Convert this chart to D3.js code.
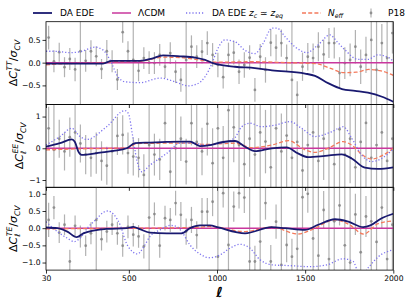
<!DOCTYPE html>
<html>
<head>
<meta charset="utf-8">
<script src="https://cdn.jsdelivr.net/npm/d3@7"></script>
<style>
body { margin: 0; background: #fff; }
text { font-family: "DejaVu Sans", sans-serif; }
</style>
</head>
<body>
<svg id="chart" width="415" height="305"></svg>
<script>
// binned multipoles of the P18 points
const binEll = [45,75,105,135,165,195,225,255,285,315,345,375,405,435,465,495,525,555,585,615,
    645,675,705,735,765,795,825,855,885,915,945,975,1005,1035,1065,1095,1125,1155,1185,1215,
    1245,1275,1305,1335,1365,1395,1425,1455,1485,1515,1545,1575,1605,1635,1665,1695,1725,1755,1785,1815,
    1845,1875,1905,1935,1965,1995];

const ttVal = [0.55,0.03,0.23,-0.10,0.08,-0.15,0.25,0.04,0.25,0.14,-0.14,0.25,0.03,-0.37,0.67,0.25,0.06,-0.18,0.10,0.00,
    -0.01,0.17,-0.09,0.21,-0.20,-0.38,0.06,0.35,0.13,0.24,0.43,0.17,-0.05,-0.32,0.17,0.22,-0.20,-0.05,0.11,-0.60,
    0.13,-0.16,0.44,0.33,0.43,0.10,-0.38,-0.71,-0.09,0.13,0.10,0.35,0.18,0.43,0.43,-0.23,-0.01,0.06,0.35,-0.09,
    0.17,0.50,-0.16,0.43,0.10,0.65];
const ttErr = [0.26,0.24,0.21,0.22,0.24,0.26,3,0.24,0.24,0.22,0.22,0.25,0.24,0.23,0.23,0.22,3,0.23,0.24,0.25,
    0.24,0.24,0.25,0.24,0.25,0.26,3,0.25,0.25,0.26,0.26,0.26,0.27,0.25,0.27,0.26,0.27,0.28,0.27,0.26,
    0.28,0.28,0.3,0.29,0.3,0.3,3,0.3,0.31,0.3,0.32,0.32,0.33,0.33,0.34,0.35,0.35,0.36,0.37,0.38,
    0.4,3,3,0.42,3,0.45];

const eeVal = [0.63,-0.05,0.30,-0.10,0.35,0.50,0.15,-0.20,-0.30,-0.15,-0.40,-0.55,-0.10,0.39,0.42,-0.15,-0.26,-0.30,-0.84,0.10,
    -0.20,-0.35,0.79,-0.74,0.00,0.30,-0.42,0.79,0.20,-0.10,0.77,-0.47,0.63,-0.30,1.20,0.66,0.10,-0.50,0.30,-0.20,
    0.50,0.21,-0.60,0.63,-0.10,0.40,-0.30,0.20,-0.70,0.10,0.50,-0.40,0.30,0.00,-0.50,0.60,-0.20,0.30,-0.60,0.20,
    0.80,-0.30,0.10,0.50,-0.40,0.30];
const eeErr = [0.68,3,0.6,0.6,0.62,3,0.6,0.62,0.6,0.65,0.62,0.6,3,0.6,0.62,0.65,0.6,0.62,0.65,3,
    0.66,0.65,0.62,0.7,3,0.7,0.72,0.7,3,0.75,1.0,1.1,3,1.0,3,1.1,3,3,1.2,3,
    3,1.0,3,3,1.2,3,3,3,1.3,3,3,3,1.3,3,3,3,3,1.4,3,3,
    3,3,1.5,3,3,3];

const teVal = [0.24,0.60,-0.13,0.10,-0.97,0.07,-0.24,-0.51,-0.15,0.24,-0.32,-0.10,0.10,-0.15,-0.51,0.04,-0.19,-0.24,-0.53,0.31,
    0.41,-0.51,0.29,0.24,0.73,0.39,-0.10,0.24,-0.20,0.48,0.48,0.77,-0.83,1.02,-0.49,0.63,1.02,0.89,-0.97,-0.97,
    -0.39,0.73,-0.97,0.19,-1.07,-0.49,-0.83,-0.60,0.90,1.00,-0.30,-0.80,0.53,-0.90,0.20,0.66,-0.50,-1.00,0.40,-0.70,
    0.34,0.20,-0.40,0.60,-0.90,0.10];
const teErr = [0.5,0.34,0.3,0.3,0.34,0.3,0.32,0.3,0.32,3,0.33,0.32,0.3,0.33,0.32,0.33,0.34,0.33,0.35,3,
    0.34,0.35,0.36,0.35,0.36,0.37,0.38,0.38,0.4,0.4,0.4,0.42,3,0.42,3,0.44,0.45,0.45,3,0.46,
    3,0.48,0.48,0.5,3,0.5,0.52,3,3,0.55,3,3,0.55,3,3,0.58,3,3,0.6,3,
    0.6,3,3,0.62,3,3];

// model residuals, [ell, value]
const ttEde = [[30,-0.02],[194,-0.02],[353,-0.02],[404,0.04],[563,0.04],[631,0.09],[694,0.16],[790,0.14],[875,0.11],[932,0.06],
    [977,-0.01],[1102,-0.09],[1215,-0.12],[1312,-0.17],[1499,-0.24],[1556,-0.29],[1630,-0.45],[1709,-0.58],[1783,-0.62],[1856,-0.66],[1936,-0.75],[2000,-0.86]];
const ttZeq = [[30,0.25],[81,0.25],[166,0.22],[223,0.24],[308,0.34],[353,0.28],[393,0.06],[438,-0.31],[478,-0.42],[563,-0.44],
    [677,-0.34],[762,-0.42],[835,-0.51],[886,-0.47],[932,-0.31],[972,-0.01],[1000,0.27],[1045,0.5],[1102,0.46],[1159,0.27],
    [1215,0.2],[1261,0.42],[1312,0.76],[1340,0.76],[1386,0.57],[1442,0.35],[1510,0.22],[1573,0.39],[1641,0.61],[1681,0.46],
    [1726,0.28],[1800,0.07],[1856,0.07],[1913,0.17],[1970,0.12],[2000,0.03]];
const ttNeff = [[30,-0.05],[150,-0.02],[350,-0.01],[410,0.02],[560,0.03],[700,0.12],[800,0.11],[930,0.04],[1000,0.01],[1200,0.02],
    [1400,0.0],[1560,-0.02],[1640,-0.12],[1720,-0.22],[1790,-0.21],[1860,-0.15],[1930,-0.18],[2000,-0.28]];

const eeEde = [[30,0.05],[109,0.16],[176,0.28],[194,0.2],[213,-0.1],[232,-0.21],[261,-0.2],[336,-0.14],[412,-0.08],[488,0.0],
    [535,0.16],[620,0.18],[715,0.2],[790,0.21],[847,0.21],[903,0.07],[960,0.1],[1026,0.19],[1102,0.23],[1159,0.05],
    [1215,-0.09],[1310,0.0],[1395,0.03],[1459,-0.16],[1516,-0.28],[1613,-0.24],[1707,-0.19],[1764,-0.32],[1839,-0.61],[1913,-0.65],[2000,-0.6]];
const eeZeq = [[30,0.1],[109,0.37],[176,0.63],[223,0.37],[261,0.28],[374,0.68],[478,1.19],[497,1.1],[522,0.37],[545,-0.37],
    [573,-0.74],[620,-0.53],[715,-0.16],[790,0.16],[875,0.16],[932,0.1],[1026,0.16],[1102,0.34],[1140,0.68],[1187,0.79],
    [1253,0.68],[1329,0.73],[1414,0.84],[1480,0.63],[1556,0.37],[1650,0.52],[1716,0.68],[1764,0.32],[1820,-0.21],[1877,-0.42],
    [1934,-0.32],[2000,-0.02]];
const eeNeff = [[30,-0.05],[200,-0.02],[400,0.0],[500,0.02],[545,0.15],[700,0.16],[850,0.16],[932,0.12],[1102,0.16],[1196,0.02],
    [1310,0.1],[1405,0.24],[1500,-0.05],[1556,-0.13],[1630,0.0],[1716,0.21],[1764,0.1],[1830,-0.23],[1877,-0.34],[1934,-0.24],[2000,0.0]];

const teEde = [[30,0.02],[94,0.0],[151,-0.1],[204,-0.26],[242,-0.15],[298,-0.07],[374,-0.02],[488,0.0],[525,0.04],[563,-0.03],
    [620,-0.13],[715,-0.15],[800,-0.15],[847,0.0],[903,0.08],[960,0.08],[1007,0.02],[1159,-0.15],[1310,0.03],[1386,0.0],
    [1499,-0.05],[1574,0.1],[1669,0.26],[1745,0.19],[1830,0.03],[1870,0.08],[1934,0.29],[2000,0.42]];
const teZeq = [[30,0.19],[94,-0.1],[151,-0.29],[189,-0.39],[227,-0.27],[264,0.0],[311,0.24],[359,0.47],[378,0.5],[416,0.39],
    [454,0.05],[482,-0.39],[520,-0.68],[548,-0.75],[586,-0.53],[620,-0.24],[677,-0.05],[734,0.08],[772,0.05],[800,-0.1],
    [847,-0.49],[903,-0.75],[955,-0.86],[1017,-0.78],[1074,-0.58],[1130,-0.47],[1187,-0.58],[1244,-0.92],[1319,-1.07],[1414,-1.09],
    [1527,-1.12],[1622,-1.07],[1716,-0.89],[1773,-0.97],[1801,-1.25],[1840,-1.26],[1858,-1.15],[1915,-0.83],[2000,-0.63]];
const teNeff = [[30,-0.02],[300,-0.01],[600,0.0],[900,0.03],[960,0.05],[1159,-0.1],[1310,0.03],[1460,-0.17],[1535,-0.05],[1669,0.24],
    [1745,0.12],[1832,-0.17],[1913,0.13],[2000,0.21]];

const xTicks = [30,500,1000,1500,2000];

const colEde = "#191970";
const colLcdm = "#c9379d";
const colZeq = "#7c72ee";
const colNeff = "#f47a5c";
const colData = "grey";

const plotLeft = 46;
const plotRight = 393.3;
const panelTop = 21.7;
const panelHeight = 82.8;

const svg = d3.select("#chart");

const x = d3.scaleLinear().domain([30,2000]).range([plotLeft,plotRight]);

const panels = [
    {id:"tt",sup:"TT",vals:ttVal,errs:ttErr,ede:ttEde,zeq:ttZeq,neff:ttNeff,domain:[-0.92,0.9],ticks:[-0.5,0,0.5],fmt:".1f",labelX:17},
    {id:"ee",sup:"EE",vals:eeVal,errs:eeErr,ede:eeEde,zeq:eeZeq,neff:eeNeff,domain:[-1.23,1.38],ticks:[-1,0,1],fmt:"d",labelX:23},
    {id:"te",sup:"TE",vals:teVal,errs:teErr,ede:teEde,zeq:teZeq,neff:teNeff,domain:[-1.22,1.19],ticks:[-1,-0.5,0,0.5,1],fmt:".1f",labelX:17}
];

const addYLabel = (sup,cx,cy) =>
{
    const t = svg.append("text")
        .attr("transform",`translate(${cx},${cy}) rotate(-90)`)
        .attr("text-anchor","middle")
        .attr("font-size",11);
    t.append("tspan").text("Δ");
    t.append("tspan").attr("font-style","italic").text("C");
    t.append("tspan").attr("font-style","italic").attr("font-size",7.7).attr("dy",2.6).text("ℓ");
    t.append("tspan").attr("font-style","italic").attr("font-size",7.7).attr("dx",-2.6).attr("dy",-7.2).text(sup);
    t.append("tspan").attr("dy",4.6).text("/");
    t.append("tspan").attr("font-style","italic").text("σ");
    t.append("tspan").attr("font-style","italic").attr("font-size",7.7).attr("dy",2.6).text("CV");
}

panels.forEach((p,i) =>
{
    const top = panelTop + i*panelHeight;
    const y = d3.scaleLinear().domain(p.domain).range([top+panelHeight,top]);

    svg.append("clipPath").attr("id",`clip-${p.id}`)
        .append("rect")
        .attr("x",plotLeft).attr("y",top)
        .attr("width",plotRight-plotLeft).attr("height",panelHeight);

    const g = svg.append("g").attr("clip-path",`url(#clip-${p.id})`);

    // P18 error bars
    g.selectAll(".bar")
        .data(binEll)
        .enter()
        .append("line")
        .attr("x1",d => x(d)).attr("x2",d => x(d))
        .attr("y1",(d,k) => y(p.vals[k]-p.errs[k]))
        .attr("y2",(d,k) => y(p.vals[k]+p.errs[k]))
        .attr("stroke",colData)
        .attr("stroke-width",1.2)
        .attr("opacity",0.6);

    g.selectAll(".pt")
        .data(binEll)
        .enter()
        .append("circle")
        .attr("cx",d => x(d))
        .attr("cy",(d,k) => y(p.vals[k]))
        .attr("r",1.4)
        .attr("fill",colData)
        .attr("opacity",0.8);

    const line = d3.line()
        .x(d => x(d[0]))
        .y(d => y(d[1]))
        .curve(d3.curveMonotoneX);

    g.append("line")
        .attr("x1",x(30)).attr("x2",x(2000))
        .attr("y1",y(0)).attr("y2",y(0))
        .attr("stroke",colLcdm).attr("stroke-width",1.5);

    g.append("path").attr("d",line(p.neff))
        .attr("fill","none").attr("stroke",colNeff)
        .attr("stroke-width",1.3).attr("stroke-dasharray","4,2.2");

    g.append("path").attr("d",line(p.zeq))
        .attr("fill","none").attr("stroke",colZeq)
        .attr("stroke-width",1.3).attr("stroke-dasharray","1.2,2");

    g.append("path").attr("d",line(p.ede))
        .attr("fill","none").attr("stroke",colEde)
        .attr("stroke-width",1.8);

    // axes
    const yAxis = svg.append("g")
        .attr("transform",`translate(${plotLeft},0)`)
        .call(d3.axisLeft(y).tickValues(p.ticks).tickSize(3.5).tickPadding(2).tickFormat(d3.format(p.fmt)));
    yAxis.select(".domain").remove();
    yAxis.selectAll("text").attr("font-size",7.6).attr("font-family","DejaVu Sans");
    yAxis.selectAll("line").attr("stroke-width",0.8);

    const xAxis = svg.append("g")
        .attr("transform",`translate(0,${top+panelHeight})`)
        .call(d3.axisBottom(x).tickValues(xTicks).tickSize(3.5).tickPadding(2)
            .tickFormat(i == 2 ? d3.format("d") : ""));
    xAxis.select(".domain").remove();
    xAxis.selectAll("text").attr("font-size",7.6).attr("font-family","DejaVu Sans");
    xAxis.selectAll("line").attr("stroke-width",0.8);

    svg.append("rect")
        .attr("x",plotLeft).attr("y",top)
        .attr("width",plotRight-plotLeft).attr("height",panelHeight)
        .attr("fill","none").attr("stroke","black").attr("stroke-width",0.8);

    addYLabel(p.sup,p.labelX,top+panelHeight/2);
});

svg.append("text")
    .attr("x",x(1015)).attr("y",297)
    .attr("text-anchor","middle")
    .attr("font-size",14).attr("font-style","italic").attr("font-weight","bold")
    .text("ℓ");

// legend
const legendY = 13;
const legendItems = [
    {x:33,color:colEde,dash:null,width:1.8},
    {x:112,color:colLcdm,dash:null,width:1.5},
    {x:186,color:colZeq,dash:"1.2,2",width:1.3},
    {x:302,color:colNeff,dash:"4,2.2",width:1.3}
];
legendItems.forEach(d =>
{
    svg.append("line")
        .attr("x1",d.x).attr("x2",d.x+19)
        .attr("y1",legendY).attr("y2",legendY)
        .attr("stroke",d.color).attr("stroke-width",d.width)
        .attr("stroke-dasharray",d.dash);
});

const legendText = (xPos) => svg.append("text").attr("x",xPos).attr("y",legendY+3.3).attr("font-size",9);

legendText(60).text("DA EDE");
legendText(138).text("ΛCDM");
const zl = legendText(212);
zl.append("tspan").text("DA EDE ");
zl.append("tspan").attr("font-style","italic").text("z");
zl.append("tspan").attr("font-style","italic").attr("font-size",6.3).attr("dy",1.6).text("c");
zl.append("tspan").attr("dy",-1.6).text(" ≃ ");
zl.append("tspan").attr("font-style","italic").text("z");
zl.append("tspan").attr("font-style","italic").attr("font-size",6.3).attr("dy",1.6).text("eq");
const nl = legendText(328);
nl.append("tspan").attr("font-style","italic").text("N");
nl.append("tspan").attr("font-style","italic").attr("font-size",6.3).attr("dy",1.6).text("eff");
legendText(388).text("P18");

svg.append("line")
    .attr("x1",371).attr("x2",371)
    .attr("y1",legendY-4.5).attr("y2",legendY+4.5)
    .attr("stroke",colData).attr("stroke-width",1.2).attr("opacity",0.6);
svg.append("circle")
    .attr("cx",371).attr("cy",legendY).attr("r",1.4)
    .attr("fill",colData).attr("opacity",0.8);
</script>
</body>
</html>
